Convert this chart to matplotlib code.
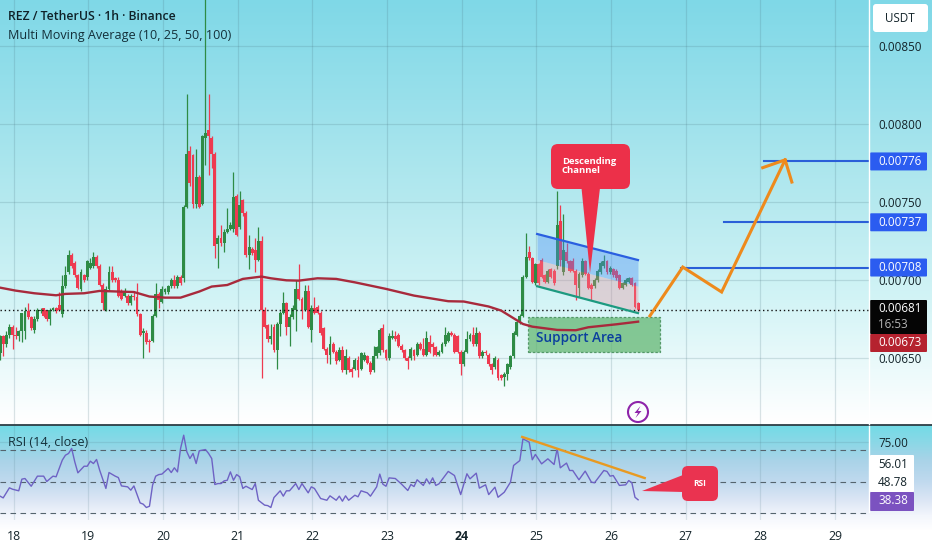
import numpy as np
import matplotlib
matplotlib.use("Agg")
import matplotlib.pyplot as plt
from matplotlib.colors import to_rgb
from matplotlib.patches import Circle, FancyBboxPatch, Polygon, Rectangle

plt.rcParams['font.family'] = ['Open Sans', 'DejaVu Sans']

# candles, 1h, prices in units of 0.00001 USDT
opens = [653,664,659,665,670,665,664,667,667,680,
         676,668,675,680,682,681,675,681,682,684,
         678,696,705,716,711,703,694,703,702,708,
         709,715,709,697,681,694,705,701,700,693,
         690,690,685,690,689,678,666,666,661,661,
         677,691,686,692,692,696,700,696,702,701,
         747,783,780,749,766,749,791,796,791,781,
         723,727,724,731,733,733,754,734,751,743,
         716,720,719,713,725,681,671,662,670,655,
         672,679,685,670,676,681,694,688,681,693,
         668,682,683,679,669,656,652,659,654,649,
         655,642,650,643,643,649,643,649,651,647,
         642,651,653,669,655,650,663,664,665,658,
         655,650,650,655,652,659,656,652,660,659,
         657,652,654,659,661,666,665,664,654,646,
         654,662,665,659,666,651,654,652,646,644,
         649,639,638,640,644,651,665,673,677,702,
         718,714,698,710,713,703,699,707,706,709,
         738,705,718,712,712,706,695,703,712,704,
         697,696,700,705,709,712,705,707,706,703,
         695,697,699,701,698,685]
closes = [664,659,665,670,665,664,667,679,680,676,
          669,675,681,681,677,675,681,682,680,681,
          696,703,716,709,703,695,705,700,712,711,
          715,709,697,685,694,705,700,700,690,688,
          693,685,690,689,678,665,667,660,660,677,
          691,687,694,694,696,700,696,702,698,747,
          781,762,749,766,747,792,794,792,781,722,
          727,724,731,733,735,753,729,748,743,716,
          721,717,713,725,681,670,662,664,655,672,
          679,685,670,676,682,694,688,681,693,670,
          682,679,679,666,656,652,659,654,648,655,
          642,651,642,641,649,642,653,652,647,641,
          651,657,668,655,650,664,664,662,658,655,
          650,648,656,651,659,656,652,663,654,657,
          652,654,659,665,666,665,654,654,646,654,
          662,665,659,666,651,654,653,646,642,650,
          637,637,640,646,651,666,673,677,702,715,
          714,699,710,698,702,699,706,702,698,735,
          713,719,712,706,706,697,704,712,704,695,
          694,700,706,711,712,705,708,703,701,695,
          698,700,701,697,683,681]
highs = [665,665,667,672,671,670,668,679,683,685,
         677,677,682,682,682,681,682,683,683,692,
         703,709,719,717,712,704,707,704,713,714,
         718,716,710,698,696,709,709,702,702,694,
         695,691,691,692,698,679,669,668,662,678,
         698,692,696,695,697,701,703,703,703,748,
         819,786,781,784,767,793,885,819,792,782,
         729,735,733,746,737,769,755,757,752,744,
         729,721,727,734,728,683,672,672,672,673,
         680,692,686,678,684,700,710,689,697,697,
         684,689,684,680,670,657,664,660,655,657,
         658,656,651,644,650,651,654,654,652,648,
         658,658,669,672,656,666,668,667,666,659,
         656,651,657,656,660,660,663,667,665,660,
         658,655,660,670,667,667,666,665,655,655,
         667,666,670,670,667,655,655,653,647,651,
         650,640,641,647,652,667,674,678,703,730,
         722,715,711,711,714,704,707,708,707,757,
         748,742,724,713,714,707,705,714,713,705,
         698,701,707,712,716,713,709,708,707,704,
         699,701,702,702,699,686]
lows = [649,651,657,663,656,662,661,660,662,675,
        668,666,674,679,676,674,671,680,679,680,
        676,695,704,708,702,694,693,699,700,707,
        708,708,696,681,680,693,699,699,689,687,
        689,684,684,687,677,664,650,659,654,660,
        676,682,685,691,691,695,695,695,697,699,
        746,760,746,746,746,748,774,767,772,714,
        708,722,718,730,732,731,728,733,741,715,
        707,716,705,712,637,669,660,659,654,643,
        664,678,665,658,675,667,687,675,680,669,
        660,678,678,665,655,647,646,653,646,648,
        641,640,641,638,642,638,642,648,646,640,
        641,650,652,654,649,649,662,661,657,654,
        649,643,649,649,651,655,651,651,653,651,
        651,651,653,658,660,664,653,653,639,645,
        653,661,658,658,650,650,652,645,640,643,
        636,636,632,636,643,650,664,672,676,701,
        713,698,697,697,701,698,698,701,697,707,
        709,703,711,705,705,687,689,702,703,694,
        687,695,699,704,708,704,704,702,700,694,
        694,696,698,696,682,680]

# 100 period moving average, read at its bends
ma_hours = [0,5,11,18,21,27,32,38,43,48,53,58,64,68,73,78,84,87,92,96,
            102,108,114,124,133,144,149,157,161,168,171,179,185,189,198,205]
ma_values = [695.1,693.2,691.5,690.2,691.1,691.5,693,692.6,692.3,689.4,688.7,688.7,
             692.6,695.8,696.8,700.7,702.2,701.1,699.8,699.6,
             701.1,700.7,698.5,694.3,690,686.4,686.2,683,680.4,671.8,670.1,668,667.8,
             669.7,671.6,673.3]

rsi_hours = [0,1,3,4,6,7,8,10,12,14,15,17,18,20,21,22,23,24,25,27,28,29,30,31,32,34,35,37,38,39,
             41,42,43,45,46,47,48,49,50,51,52,54,55,56,57,58,59,60,61,62,63,64,66,67,68,69,70,71,72,73,
             74,75,76,77,78,79,81,82,83,85,86,87,88,90,91,92,93,95,96,97,99,100,101,103,105,106,108,109,110,111,
             112,114,115,116,118,119,121,122,123,124,125,127,129,
             131,132,133,134,136,137,138,139,140,141,144,146,148,150,151,153,154,156,157,159,160,162,164,165,
             167,168,170,171,172,174,176,178,179,180,182,183,184,186,188,190,191,194,195,196,197,199,201,202,203,204,205]
rsi_values = [40.7,39.6,46.0,45.1,44.1,51.5,51.9,47.0,53.4,53.4,50,53.4,53.0,63.6,66.7,67.8,71.0,62.5,55.5,59.7,
              59.7,62.9,61.4,64.0,57.2,45.6,55.7,53.4,52.5,47.2,
              46.6,44.5,47.2,36.4,35.6,33.5,34.3,47.7,53.4,54.4,54.7,58.3,55.7,58.7,56.1,71.0,79.4,68.9,64.6,67.8,
              61.4,69.5,70.3,67.8,64.6,48.1,48.7,48.7,50.4,50.8,
              56.1,50.8,54.4,53.0,45.6,47.0,44.9,48.7,38.1,35.0,34.7,33.5,39.8,44.1,40.7,44.1,44.1,48.7,44.9,48.7,
              42.8,46.6,45.6,39.2,38.1,40.9,38.1,40.7,37.5,40.9,
              38.1,41.3,40.3,44.1,42.8,40.7,46.6,54.7,48.3,47.0,52.3,51.9,48.3,
              44.3,48.1,46.8,51.1,47.5,51.7,48.5,52.3,47.5,48.5,56.4,53.8,41.7,54.9,51.7,55.3,45.8,47.9,41.7,46.4,
              40.0,43.2,49.6,60.2,
              63.3,77.1,75.0,63.8,67.2,61.2,64.4,60.8,70.8,58.7,61.7,57.0,57.0,51.1,56.6,49.6,49.2,57.0,56.4,53.4,
              53.8,47.5,47.9,50.6,49.2,40.0,38.4]

day_ticks = [18,19,20,21,22,23,24,25,26,27,28,29]
price_ticks = [0.0065,0.0070,0.0075,0.0080,0.0085]
target_levels = [0.00776,0.00737,0.00708]
target_starts = [28.05,27.51,26.93]
last_price = 0.00681
ma_price = 0.00673

GREEN = '#2e8b45'
RED = '#ee3a50'
W, H = 932, 550


def gradient(stops, rows):
    ys = [s[0] for s in stops]
    cols = np.array([to_rgb(s[1]) for s in stops])
    return np.stack([np.interp(rows, ys, cols[:, k]) for k in range(3)], axis=1)


def pane(y0, y1):
    return [0, 1 - y1 / H, 869 / W, (y1 - y0) / H]


fig = plt.figure(figsize=(W / 100, H / 100), dpi=100)

# background
bg = fig.add_axes([0, 0, 1, 1], zorder=0)
rows = np.arange(H)
top_part = gradient([(0,'#7fd8e7'),(100,'#99e0eb'),(200,'#b5e9ef'),(300,'#d3f4f6'),(380,'#f0fbfc'),(420,'#ffffff')], rows)
rsi_part = gradient([(426,'#74dbe6'),(440,'#88d8e6'),(460,'#a9d3e8'),(480,'#bfd9ee'),(500,'#dce6f5'),(515,'#f3f6fc'),(530,'#ffffff')], rows)
img = np.where((rows < 425)[:, None], top_part, rsi_part)[:, None, :]
bg.imshow(img, aspect='auto', extent=(0, W, H, 0))
bg.axis('off')

# price pane
ax = fig.add_axes(pane(0, 425), zorder=1)
ax.patch.set_alpha(0)
for s in ax.spines.values():
    s.set_visible(False)
ax.set_xlim(17.819, 29.453)
ax.set_ylim(0.0060705, 0.008795)
ax.set_xticks(day_ticks)
ax.tick_params(axis='x', length=0, labelbottom=False)
ax.yaxis.tick_right()
ax.set_yticks(price_ticks)
ax.set_yticklabels(['%.5f' % p for p in price_ticks])
ax.tick_params(axis='y', length=0, pad=6.5, labelsize=8.4, labelcolor='#14242a')
ax.grid(True, color='#4a7380', alpha=0.2, lw=0.9)
ax.set_axisbelow(True)

o, c, hi, lo = [np.array(v) * 1e-5 for v in (opens, closes, highs, lows)]
assert len(o) == len(c) == len(hi) == len(lo)
assert len(rsi_hours) == len(rsi_values) and len(ma_hours) == len(ma_values)
t = 17.82 + np.arange(len(o)) / 24
cols = [GREEN if a >= b else RED for a, b in zip(c, o)]
ax.vlines(t, lo, hi, colors=cols, lw=0.9, zorder=3)
ax.bar(t, np.abs(c - o), bottom=np.minimum(o, c), width=2.9 / 74.7, color=cols, lw=0, zorder=4)

ax.plot(17.82 + np.array(ma_hours) / 24, np.array(ma_values) * 1e-5, color='#a82a3c', lw=1.7, zorder=7)
ax.axhline(last_price, color='#111111', lw=1, ls=(0, (1, 2)), zorder=6)

# support zone and channel
ax.add_patch(Rectangle((24.89, 0.00654), 1.77, 0.00022, fc='#5fb56e', ec='#2f7d45', alpha=0.72,
                       lw=0.9, ls=(0, (2, 1.5)), zorder=5))
ax.text(25.0, 0.00663, 'Support Area', color='#0b3f9e', fontsize=9.8, fontweight='semibold',
        va='center', ha='left', zorder=8)
ch_x = [25.01, 26.36]
ch_top = [0.007295, 0.007128]
ch_mid = [0.00713, 0.00696]
ch_bot = [0.00696, 0.006788]
ax.fill_between(ch_x, ch_mid, ch_top, color='#4a8df5', alpha=0.38, lw=0, zorder=5)
ax.fill_between(ch_x, ch_bot, ch_mid, color='#f08a96', alpha=0.32, lw=0, zorder=5)
ax.plot(ch_x, ch_top, color='#2a5fe0', lw=1.6, zorder=6)
ax.plot(ch_x, ch_bot, color='#1c9a80', lw=1.6, zorder=6)

# targets
for lvl, st in zip(target_levels, target_starts):
    ax.plot([st, 29.453], [lvl, lvl], color='#2a5fd8', lw=1.5, zorder=6)

# projected move
ax.plot([26.52, 26.96, 27.48, 28.33], [0.00677, 0.007083, 0.006923, 0.00777],
        color='#ee8a1c', lw=2.2, solid_joinstyle='miter', zorder=9)
ax.plot([28.03, 28.33, 28.42], [0.00772, 0.00777, 0.007628], color='#ee8a1c', lw=2.2,
        solid_joinstyle='miter', zorder=9)

# rsi pane
rx = fig.add_axes(pane(426, 520), zorder=1)
rx.patch.set_alpha(0)
for s in rx.spines.values():
    s.set_visible(False)
rx.set_xlim(17.819, 29.453)
rx.set_ylim(25.56, 85.24)
rx.set_xticks(day_ticks)
rx.set_xticklabels([str(d) for d in day_ticks])
for lab, d in zip(rx.get_xticklabels(), day_ticks):
    if d == 24:
        lab.set_fontweight('bold')
rx.tick_params(axis='x', length=0, pad=7, labelsize=8.8, labelcolor='#14242a')
rx.yaxis.tick_right()
rx.set_yticks([75])
rx.set_yticklabels(['75.00'])
rx.tick_params(axis='y', length=0, pad=6.5, labelsize=8.4, labelcolor='#14242a')
rx.grid(True, axis='both', color='#4a7380', alpha=0.16, lw=0.9)
rx.set_axisbelow(True)
for lvl in [70, 50, 30]:
    rx.axhline(lvl, color='#55646e', lw=0.8, ls=(0, (5, 4)), zorder=2)
rx.plot(17.82 + np.array(rsi_hours) / 24, rsi_values, color='#6e62c4', lw=1.0, zorder=3)
rx.plot([24.81, 26.45], [78.3, 52.2], color='#e89a22', lw=1.7, zorder=4)

# overlay in pixels for labels and callouts
ov = fig.add_axes([0, 0, 1, 1], zorder=5)
ov.set_xlim(0, W)
ov.set_ylim(H, 0)
ov.axis('off')
ov.patch.set_alpha(0)


def price_y(p):
    return 358 - (p - 0.0065) / 0.0005 * 78


ov.plot([0, W], [425, 425], color='#2d3e45', lw=1.3)
ov.plot([869, 869], [0, 424], color='#ffffff', lw=1.0)
ov.plot([869, 869], [426, 512], color='#ffffff', lw=1.0)


def box(x0, y0, x1, y1, color, r=1.0):
    ov.add_patch(FancyBboxPatch((x0 + r, y0 + r), x1 - x0 - 2 * r, y1 - y0 - 2 * r,
                                boxstyle='round,pad=%g,rounding_size=%g' % (r, r), fc=color, ec='none'))


def label(x, y, s, color='#ffffff', size=8.4, weight='normal', ha='left'):
    ov.text(x, y, s, color=color, fontsize=size, fontweight=weight, ha=ha, va='center')


for lvl in target_levels:
    y = price_y(lvl)
    box(870, y - 9, 927, y + 9, '#2b5cf0')
    label(878, y, '%.5f' % lvl, weight='medium')
box(870, 300, 927, 334, '#050505')
label(878, 309, '%.5f' % last_price, weight='medium')
label(878, 324, '16:53', color='#b5b5b5')
box(870, 334, 927, 352, '#b5222f')
label(878, 343, '%.5f' % ma_price, weight='medium')

box(873, 4, 928, 32, '#ffffff', r=3)
label(900, 18, 'USDT', color='#14242a', ha='center')

box(870, 455, 914, 492, '#ffffff')
label(878, 465, '56.01', color='#14242a')
label(878, 483, '48.78', color='#14242a')
box(870, 492, 914, 511, '#7b52c0')
label(878, 501, '38.38', weight='medium')

label(8, 17, 'REZ / TetherUS · 1h · Binance', color='#0f2229', size=8.8, weight='semibold')
label(8, 35, 'Multi Moving Average (10, 25, 50, 100)', color='#14303a', size=9.1)
label(8, 443, 'RSI (14, close)', color='#14303a', size=9.1)

# callouts
box(551, 144, 630, 189, '#ec3049', r=7)
ov.add_patch(Polygon([(581.5, 188), (600, 188), (590, 273)], fc='#ec3049', ec='none'))
ov.text(562, 166, 'Descending\nChannel', color='#ffffff', fontsize=6.8, fontweight='bold',
        ha='left', va='center', linespacing=1.05)

box(682, 466, 718, 501, '#ea3350', r=6)
ov.add_patch(Polygon([(683, 475), (683, 492), (642, 491)], fc='#ea3350', ec='none'))
label(700, 483, 'RSI', size=6, weight='bold', ha='center')

# flash icon
ov.add_patch(Circle((638, 412), 10, fc='none', ec='#8e24aa', lw=1.5))
ov.add_patch(Polygon([(640.5, 406), (634.5, 413), (638, 413), (635.5, 418), (641.5, 411), (638, 411)],
                     fc='#8e24aa', ec='none'))

fig.savefig('out.png', dpi=100)
